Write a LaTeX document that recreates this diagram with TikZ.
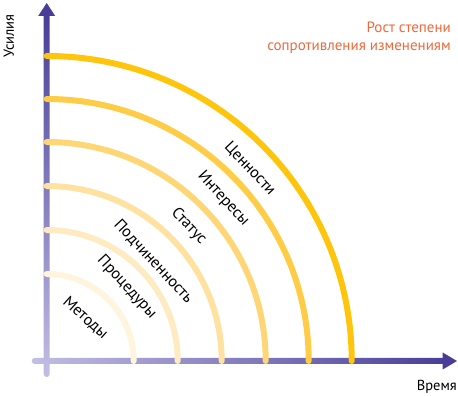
\documentclass[tikz,border=0pt]{standalone}
\usepackage{fontspec}
\setmainfont{PT Sans}
\usetikzlibrary{positioning}

\definecolor{axlight}{RGB}{194,190,228}
\definecolor{axdark}{RGB}{72,62,152}
\definecolor{risecol}{RGB}{240,104,58}
\definecolor{arcA}{RGB}{255,244,222}
\definecolor{arcB}{RGB}{255,235,194}
\definecolor{arcC}{RGB}{255,225,160}
\definecolor{arcD}{RGB}{254,214,118}
\definecolor{arcE}{RGB}{254,204,70}
\definecolor{arcF}{RGB}{255,196,12}

\tikzset{
    arcline/.style={line width=6pt,line cap=round},
    arclabel/.style={font=\fontsize{16}{18}\selectfont,rotate=#1}
}

\begin{document}
\begin{tikzpicture}[x=1pt,y=1pt]
    \useasboundingbox (-46.7,-35) rectangle (411.3,361);

    \shade[rounded corners=3pt,left color=axlight,right color=axdark]
        (-15,-3) rectangle (400,3);
    \fill[axdark] (396,-8.5) -- (410.3,0) -- (396,8.5) -- cycle;
    \shade[rounded corners=3pt,bottom color=axlight,top color=axdark]
        (-3,-16) rectangle (3,348);
    \fill[axdark] (-8.5,345) -- (0,358) -- (8.5,345) -- cycle;

    \foreach \r/\c in {87/arcA,131/arcB,175/arcC,219/arcD,262/arcE,305/arcF}
        \draw[arcline,\c] (\r,0) arc[start angle=0,end angle=90,radius=\r];

    \foreach \r/\a/\t/\n in {58/48/Методы/methods,109/42.7/Процедуры/procs,
        146/43/Подчиненность/subord,196/43.5/Статус/status,
        240/42.6/Интересы/interests,280/43.4/Ценности/values}
        \node[arclabel=\a-90] (\n) at (\a:\r) {\t};

    \node[rotate=90,font=\fontsize{14.5}{16}\selectfont] (effort) at (-37.7,325) {Усилия};
    \node[anchor=east,inner sep=0pt,font=\fontsize{14.5}{16}\selectfont] (time) at (410.3,-26) {Время};
    \node[anchor=east,align=right,text=risecol,inner sep=0pt,
        font=\fontsize{15}{18}\selectfont] (rise) at (404.3,323)
        {Рост степени\\сопротивления изменениям};
\end{tikzpicture}
\end{document}
